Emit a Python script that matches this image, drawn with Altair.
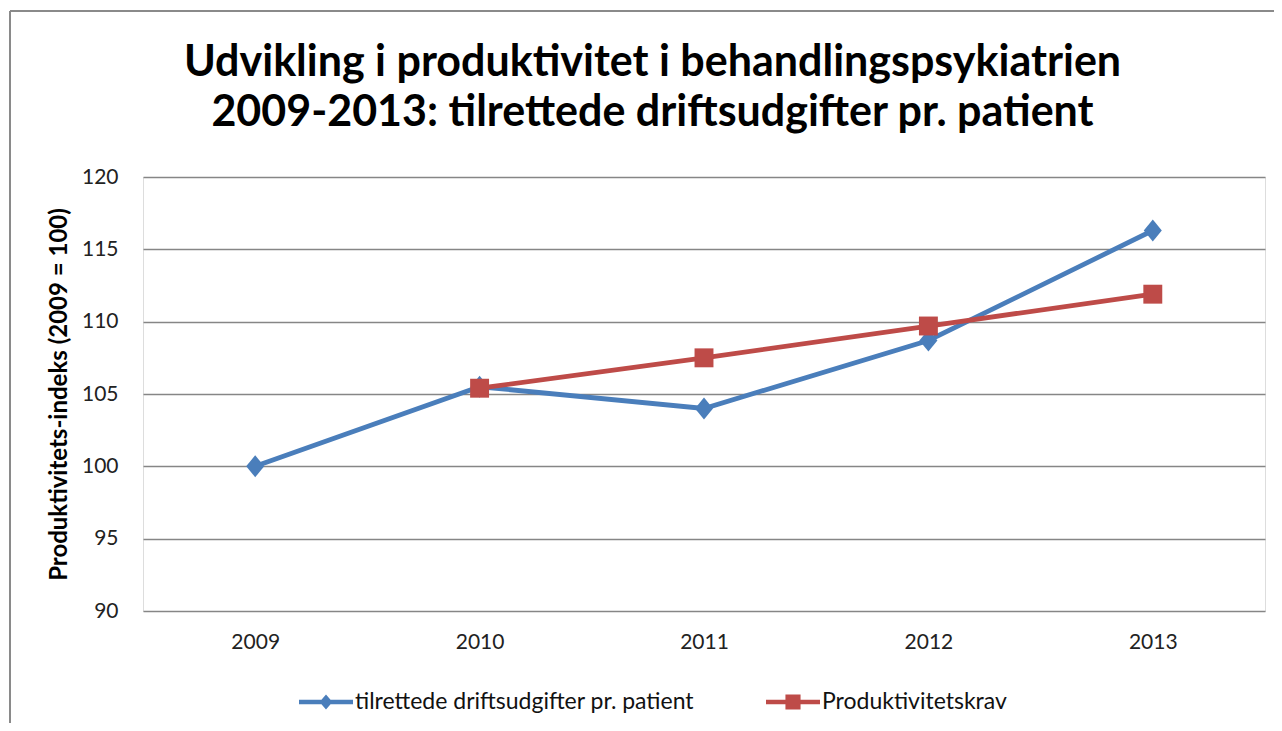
import altair as alt
import pandas as pd

years = ["2009", "2010", "2011", "2012", "2013"]
series_names = ["tilrettede driftsudgifter pr. patient", "Produktivitetskrav"]
udgifter = [100.0, 105.5, 104.0, 108.7, 116.3]
krav = [None, 105.4, 107.5, 109.7, 111.9]
y_ticks = [90, 95, 100, 105, 110, 115, 120]
title_lines = ["Udvikling i produktivitet i behandlingspsykiatrien",
               "2009-2013: tilrettede driftsudgifter pr. patient"]
y_title = "Produktivitets-indeks (2009 = 100)"

rows = []
for yr, v in zip(years, udgifter):
    if v is not None:
        rows.append({"year": yr, "series": series_names[0], "value": v})
for yr, v in zip(years, krav):
    if v is not None:
        rows.append({"year": yr, "series": series_names[1], "value": v})
df = pd.DataFrame(rows)

BLUE = "#4A7EBB"
RED = "#BE4B48"
FONT = "Lato"

DIAMOND = "M-0.41,0L0,-0.5L0.41,0L0,0.5Z"
SQUARE = "M-0.43,-0.43H0.43V0.43H-0.43Z"
LEG_BLUE = "M-1,-0.085H1V0.085H-1Z M-0.24,0L0,-0.28L0.24,0L0,0.28Z"
LEG_RED = "M-1,-0.085H1V0.085H-1Z M-0.28,-0.28H0.28V0.28H-0.28Z"

color_scale = alt.Scale(domain=series_names, range=[BLUE, RED])

x_enc = alt.X("year:N", title=None, sort=years,
              axis=alt.Axis(labelAngle=0, ticks=False, tickSize=0, domain=False,
                            labelPadding=20, labelFontSize=21, labelFont=FONT,
                            labelColor="#222222", grid=False))
y_enc = alt.Y("value:Q", title=y_title,
              scale=alt.Scale(domain=[90, 120], nice=False, zero=False),
              axis=alt.Axis(values=y_ticks, ticks=False, tickSize=0, domain=False,
                            labelPadding=25, labelFontSize=21, labelFont=FONT,
                            labelColor="#222222", grid=True, gridColor="#868686",
                            gridWidth=1.3, titleFont=FONT, titleFontSize=24,
                            titleFontWeight="bold", titleColor="#000000",
                            titlePadding=10))

legend = alt.Legend(
    title=None, orient="none", direction="horizontal",
    legendX=156, legendY=498,
    labelFont=FONT, labelFontSize=23, labelColor="#111111",
    symbolSize=2916, labelOffset=2, columnPadding=71,
    labelLimit=600, symbolStrokeWidth=0, symbolOpacity=1,
)

base = alt.Chart(df)

lines = base.mark_line(strokeWidth=4.8).encode(
    x=x_enc, y=y_enc,
    color=alt.Color("series:N", scale=color_scale, legend=None),
    detail="series:N",
)
points_a = base.transform_filter(
    alt.datum.series == series_names[0]
).mark_point(filled=True, opacity=1, size=1936, strokeWidth=0, shape=DIAMOND).encode(
    x=x_enc, y=y_enc,
    color=alt.Color("series:N", scale=color_scale, legend=None),
)
points_b = base.transform_filter(
    alt.datum.series == series_names[1]
).mark_point(filled=True, opacity=1, size=1936, strokeWidth=0, shape=SQUARE).encode(
    x=x_enc, y=y_enc,
    color=alt.Color("series:N", scale=color_scale, legend=None),
)
legend_layer = base.mark_point(filled=True, opacity=0).encode(
    x=x_enc, y=y_enc,
    fill=alt.Fill("series:N", scale=color_scale, legend=legend),
    shape=alt.Shape("series:N", scale=alt.Scale(domain=series_names, range=[LEG_BLUE, LEG_RED]),
                    legend=legend),
)

frame_data = alt.Data(values=[{}])
frame_left = alt.Chart(frame_data).mark_rule(color="#8a8a8a", strokeWidth=2).encode(
    x=alt.value(-133), y=alt.value(-166), y2=alt.value(560))
frame_top = alt.Chart(frame_data).mark_rule(color="#8a8a8a", strokeWidth=2).encode(
    x=alt.value(-133), x2=alt.value(1140), y=alt.value(-166))

chart = alt.layer(legend_layer, lines, points_a, points_b, frame_left, frame_top).properties(
    width=1122, height=434,
    padding={"left": 135, "top": 169, "right": 9, "bottom": 112},
    autosize=alt.AutoSizeParams(type="none"),
    title=alt.TitleParams(text=title_lines, font=FONT, fontSize=43, fontWeight="bold",
                          color="#000000", anchor="middle", frame="bounds",
                          lineHeight=50, offset=-125, dx=6),
).configure_view(stroke=None).configure(background="white")

chart.save("out.html", embed_options={"renderer": "svg", "actions": False})
